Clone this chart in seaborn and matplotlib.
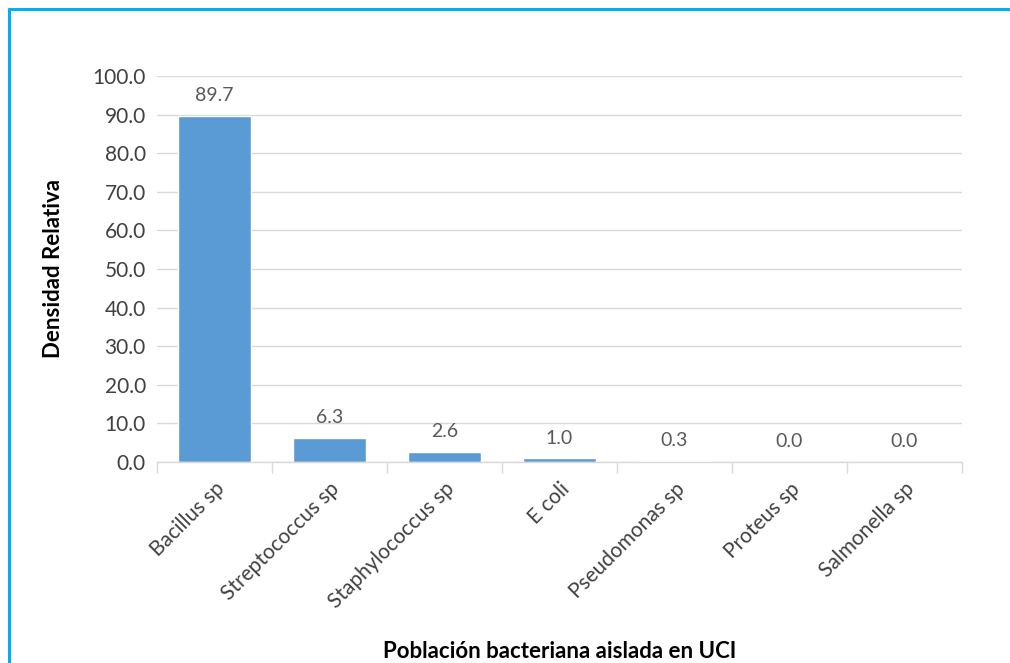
import matplotlib
matplotlib.use("Agg")
import matplotlib.pyplot as plt
from matplotlib.lines import Line2D
import seaborn as sns
import pandas as pd

categories = ["Bacillus sp", "Streptococcus sp", "Staphylococcus sp", "E coli",
              "Pseudomonas sp", "Proteus sp", "Salmonella sp"]
values = [89.7, 6.3, 2.6, 1.0, 0.3, 0.0, 0.0]
y_ticks = [0, 10, 20, 30, 40, 50, 60, 70, 80, 90, 100]

df = pd.DataFrame({"bacteria": categories, "densidad": values})

sns.set_theme(style="white")
plt.rcParams["font.family"] = ["Lato", "DejaVu Sans"]

fig = plt.figure(figsize=(10.1, 6.63), dpi=100)
ax = fig.add_axes([0.1554, 0.3032, 0.7971, 0.5822])

sns.barplot(data=df, x="bacteria", y="densidad", color="#5B9BD5",
            width=0.63, ax=ax, saturation=1)

ax.set_ylim(0, 100)
ax.set_yticks(y_ticks)
ax.set_yticklabels([f"{v:.1f}" for v in y_ticks], fontsize=15, color="#404040")
ax.yaxis.grid(True, color="#D9D9D9", linewidth=1)
ax.set_axisbelow(True)
ax.tick_params(axis="y", length=0, pad=8)

# category boundary ticks on the x axis
n = len(categories)
ax.set_xlim(-0.5, n - 0.5)
ax.set_xticks([i - 0.5 for i in range(n + 1)], minor=True)
ax.set_xticks(range(n))
ax.set_xticklabels(categories, rotation=45, ha="right", rotation_mode="anchor",
                   fontsize=15, color="#404040")
ax.tick_params(axis="x", which="major", length=0, pad=12)
ax.tick_params(axis="x", which="minor", length=8, color="#D9D9D9", width=1,
               direction="out", bottom=True)

for side in ["left", "right", "top"]:
    ax.spines[side].set_visible(False)
ax.spines["bottom"].set_color("#D9D9D9")
ax.spines["bottom"].set_linewidth(1)

for i, v in enumerate(values):
    ax.text(i, v + 3.0, f"{v:.1f}", ha="center", va="bottom",
            fontsize=14, color="#595959")

ax.set_xlabel("Población bacteriana aislada en UCI", fontsize=16,
              fontweight="bold", color="black")
ax.set_ylabel("Densidad Relativa", fontsize=16, fontweight="bold",
              color="black")
ax.xaxis.set_label_coords(0.5, -0.465)
ax.yaxis.set_label_coords(-0.115, 0.5)

# chart frame: top and left edges
x0 = 9 / 1010
y0 = 1 - 9 / 663
fig.lines.append(Line2D([x0, 1.0], [y0, y0], transform=fig.transFigure,
                        color="#00B0F0", linewidth=2.2))
fig.lines.append(Line2D([x0, x0], [0.0, y0], transform=fig.transFigure,
                        color="#00B0F0", linewidth=2.2))

fig.savefig("out.png", dpi=100)
